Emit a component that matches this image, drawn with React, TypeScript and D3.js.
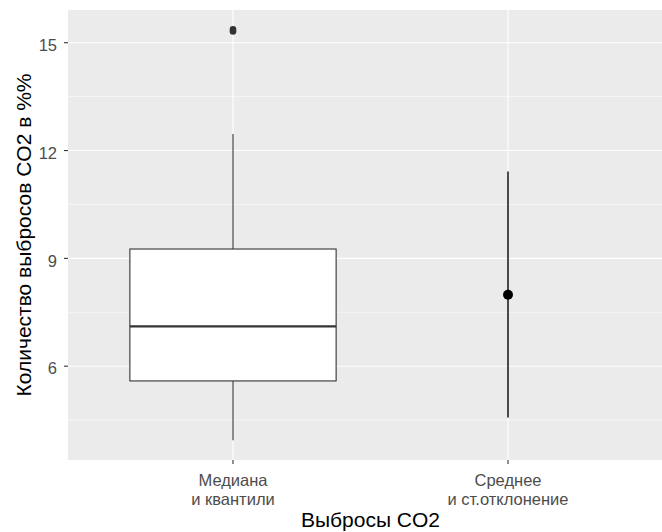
import React, { useEffect, useRef } from "react";
import * as d3 from "d3";

// categories on the x axis (two-line labels)
const categories = ["Медиана\nи квантили", "Среднее\nи ст.отклонение"];

// box plot stats for the first group
const boxStats = { low: 3.94, q1: 5.59, median: 7.11, q3: 9.26, high: 12.46 };
const outliers = [15.31, 15.37];

// mean and sd range for the second group
const meanValue = 7.99;
const sdLow = 4.57;
const sdHigh = 11.42;

const yTicks = [6, 9, 12, 15];
const yMinor = [4.5, 7.5, 10.5, 13.5];
const yDomain = [3.39, 15.91];

const xTitle = "Выбросы CO2";
const yTitle = "Количество выбросов CO2 в %%";

const App = () => {
  const svgRef = useRef<SVGSVGElement>(null);

  useEffect(() => {
    const width = 662;
    const height = 532;
    const left = 68;
    const top = 10;
    const right = 673;
    const bottom = 460;
    const font = "'Liberation Sans', Arial, sans-serif";

    const svg = d3.select(svgRef.current);
    svg.selectAll("*").remove();
    svg.attr("width", width).attr("height", height);

    // discrete scale: centers 1 and 2 in a 0.4..2.6 range
    const xPos = d3.scaleLinear().domain([0.4, 2.6]).range([left, right]);
    const xc = (i: number) => xPos(i + 1);
    const unit = xPos(2) - xPos(1);

    const y = d3.scaleLinear().domain(yDomain).range([bottom, top]);

    svg
      .append("rect")
      .attr("x", left)
      .attr("y", top)
      .attr("width", right - left)
      .attr("height", bottom - top)
      .attr("fill", "#EBEBEB");

    const grid = svg.append("g");
    grid
      .selectAll("line.minor")
      .data(yMinor)
      .enter()
      .append("line")
      .attr("x1", left)
      .attr("x2", right)
      .attr("y1", (d) => y(d))
      .attr("y2", (d) => y(d))
      .attr("stroke", "#fff")
      .attr("stroke-width", 0.55);
    grid
      .selectAll("line.major")
      .data(yTicks)
      .enter()
      .append("line")
      .attr("x1", left)
      .attr("x2", right)
      .attr("y1", (d) => y(d))
      .attr("y2", (d) => y(d))
      .attr("stroke", "#fff")
      .attr("stroke-width", 1.1);
    grid
      .selectAll("line.vmajor")
      .data(categories)
      .enter()
      .append("line")
      .attr("x1", (_, i) => xc(i))
      .attr("x2", (_, i) => xc(i))
      .attr("y1", top)
      .attr("y2", bottom)
      .attr("stroke", "#fff")
      .attr("stroke-width", 1.1);

    // box plot
    const bx = xc(0);
    const half = (unit * 0.75) / 2;
    const boxG = svg.append("g").attr("stroke", "#333333").attr("fill", "none");
    boxG
      .append("line")
      .attr("x1", bx)
      .attr("x2", bx)
      .attr("y1", y(boxStats.q3))
      .attr("y2", y(boxStats.high))
      .attr("stroke-width", 1.1);
    boxG
      .append("line")
      .attr("x1", bx)
      .attr("x2", bx)
      .attr("y1", y(boxStats.q1))
      .attr("y2", y(boxStats.low))
      .attr("stroke-width", 1.1);
    boxG
      .append("rect")
      .attr("x", bx - half)
      .attr("y", y(boxStats.q3))
      .attr("width", half * 2)
      .attr("height", y(boxStats.q1) - y(boxStats.q3))
      .attr("fill", "#fff")
      .attr("stroke-width", 1.1);
    boxG
      .append("line")
      .attr("x1", bx - half)
      .attr("x2", bx + half)
      .attr("y1", y(boxStats.median))
      .attr("y2", y(boxStats.median))
      .attr("stroke-width", 2.2);
    boxG
      .selectAll("circle")
      .data(outliers)
      .enter()
      .append("circle")
      .attr("cx", bx)
      .attr("cy", (d) => y(d))
      .attr("r", 3.3)
      .attr("fill", "#333333")
      .attr("stroke", "none");

    // mean +- sd
    const mx = xc(1);
    svg
      .append("line")
      .attr("x1", mx)
      .attr("x2", mx)
      .attr("y1", y(sdLow))
      .attr("y2", y(sdHigh))
      .attr("stroke", "#111")
      .attr("stroke-width", 1.5);
    svg
      .append("circle")
      .attr("cx", mx)
      .attr("cy", y(meanValue))
      .attr("r", 5)
      .attr("fill", "#000");

    // y axis
    const yAxis = svg.append("g");
    yAxis
      .selectAll("line")
      .data(yTicks)
      .enter()
      .append("line")
      .attr("x1", left - 4)
      .attr("x2", left)
      .attr("y1", (d) => y(d))
      .attr("y2", (d) => y(d))
      .attr("stroke", "#333333")
      .attr("stroke-width", 1.1);
    yAxis
      .selectAll("text")
      .data(yTicks)
      .enter()
      .append("text")
      .attr("x", left - 11)
      .attr("y", (d) => y(d) + 2.5)
      .attr("dy", "0.35em")
      .attr("text-anchor", "end")
      .attr("font-family", font)
      .attr("font-size", 16.5)
      .attr("fill", "#4D4D4D")
      .text((d) => d);

    // x axis
    const xAxis = svg.append("g");
    xAxis
      .selectAll("line")
      .data(categories)
      .enter()
      .append("line")
      .attr("x1", (_, i) => xc(i))
      .attr("x2", (_, i) => xc(i))
      .attr("y1", bottom)
      .attr("y2", bottom + 4)
      .attr("stroke", "#333333")
      .attr("stroke-width", 1.1);
    const labels = xAxis
      .selectAll("text")
      .data(categories)
      .enter()
      .append("text")
      .attr("text-anchor", "middle")
      .attr("font-family", font)
      .attr("font-size", 16.5)
      .attr("fill", "#4D4D4D");
    labels.each(function (d, i) {
      const lines = d.split("\n");
      lines.forEach((ln, j) => {
        d3.select(this)
          .append("tspan")
          .attr("x", xc(i))
          .attr("y", 486 + j * 19)
          .text(ln);
      });
    });

    // titles
    svg
      .append("text")
      .attr("x", (left + right) / 2)
      .attr("y", 527)
      .attr("text-anchor", "middle")
      .attr("font-family", font)
      .attr("font-size", 21)
      .attr("fill", "#000")
      .text(xTitle);
    svg
      .append("text")
      .attr("transform", `translate(31, ${(top + bottom) / 2}) rotate(-90)`)
      .attr("text-anchor", "middle")
      .attr("font-family", font)
      .attr("font-size", 21)
      .attr("fill", "#000")
      .text(yTitle);
  }, []);

  return (
    <div style={{ position: "absolute", left: 0, top: 0 }}>
      <svg ref={svgRef} style={{ display: "block", overflow: "hidden" }}></svg>
    </div>
  );
};

export default App;
